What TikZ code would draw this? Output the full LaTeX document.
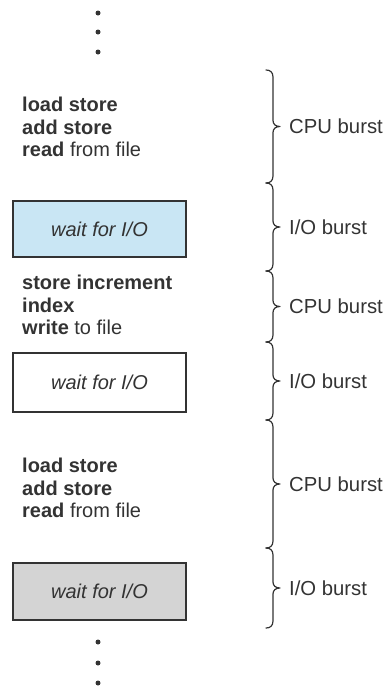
\documentclass[tikz,border=0pt]{standalone}
\usepackage{fontspec}
\setmainfont{Liberation Sans}
\definecolor{ink}{HTML}{333333}
\definecolor{bluefill}{HTML}{C9E6F4}
\definecolor{grayfill}{HTML}{D4D4D4}
\tikzset{
  txt/.style={anchor=west, inner sep=0pt, align=left, text=ink,
    font=\fontsize{20}{22.3}\selectfont},
  lbl/.style={anchor=west, inner sep=0pt, text=ink,
    font=\fontsize{20.3}{22}\selectfont},
  waitbox/.style={draw=ink, line width=1.4pt, minimum width=173pt,
    inner sep=0pt, text=ink, font=\fontsize{20}{22}\selectfont\itshape},
  brace/.style={draw=ink, line width=1.2pt, line cap=round, line join=round},
  dot/.style={circle, fill=ink, inner sep=0pt, minimum size=5pt}
}
\begin{document}
\begin{tikzpicture}[x=1pt,y=1pt]
\useasboundingbox (0,0) rectangle (387,-691);
% dots
\node[dot] (d1) at (98,-13) {};
\node[dot] (d2) at (98,-32) {};
\node[dot] (d3) at (98,-52) {};
\node[dot] (d4) at (98,-642) {};
\node[dot] (d5) at (98,-663) {};
\node[dot] (d6) at (98,-683) {};
% code blocks
\node[txt] (t1) at (22,-127) {\textbf{load store}\\\textbf{add store}\\\textbf{read} from file};
\node[waitbox, fill=bluefill, minimum height=56pt] (b1) at (99.5,-229) {wait for I/O};
\node[txt] (t2) at (22,-305) {\textbf{store increment}\\\textbf{index}\\\textbf{write} to file};
\node[waitbox, fill=white, minimum height=59pt] (b2) at (99.5,-382.5) {wait for I/O};
\node[txt] (t3) at (22,-488) {\textbf{load store}\\\textbf{add store}\\\textbf{read} from file};
\node[waitbox, fill=grayfill, minimum height=57pt] (b3) at (99.5,-591.5) {wait for I/O};
% braces
\foreach \a/\b/\name/\txt in {70/183/l1/{CPU burst}, 183/271/l2/{I/O burst}, 271/342/l3/{CPU burst}, 342/420/l4/{I/O burst}, 420/548/l5/{CPU burst}, 548/628/l6/{I/O burst}}{
  \pgfmathsetmacro{\m}{(\a+\b)/2}
  \draw[brace] (266,-\a) .. controls (270,-\a) and (273,-\a-2) .. (273,-\a-7)
    -- (273,-\m+6) .. controls (273,-\m+2) and (276,-\m) .. (280,-\m)
    .. controls (276,-\m) and (273,-\m-2) .. (273,-\m-6)
    -- (273,-\b+7) .. controls (273,-\b+2) and (270,-\b) .. (266,-\b);
  \node[lbl] (\name) at (289,-\m) {\txt};
}
\end{tikzpicture}
\end{document}
